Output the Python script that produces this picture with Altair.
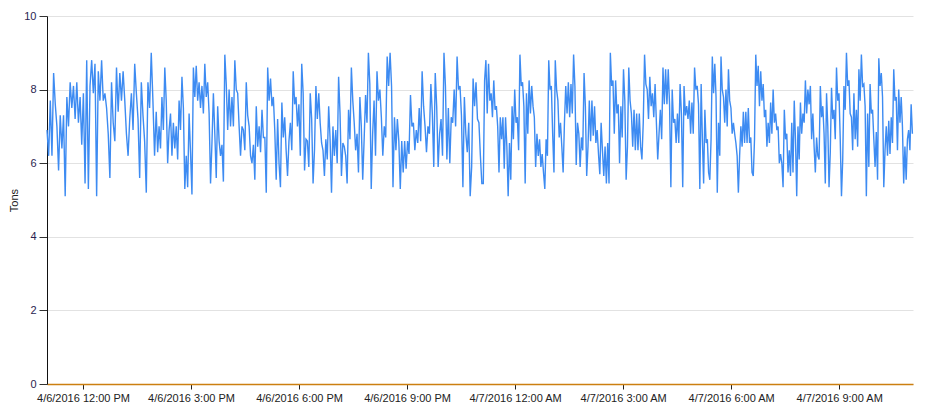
import altair as alt
import numpy as np
import pandas as pd

seg_starts = ["2016-04-06 11:00", "2016-04-06 14:02", "2016-04-06 17:03", "2016-04-06 20:05",
              "2016-04-06 23:07", "2016-04-07 02:08", "2016-04-07 05:10", "2016-04-07 08:12"]
seg_end = "2016-04-07 11:02"

# Tons, read stroke by stroke from the picture, in time order within each segment
seg1 = [6.9, 6.2, 7.7, 6.2, 8.45, 7.6, 7.0, 5.8, 7.3, 6.4, 7.3, 5.1, 7.8, 7.0, 8.2, 7.5, 8.1, 7.2, 8.2, 7.1,
        7.8, 6.5, 7.9, 5.45, 8.8, 5.3, 8.1, 8.8, 7.9, 8.7, 5.1, 8.5, 7.7, 8.8, 7.7, 7.9, 7.5, 6.8, 5.6, 8.2,
        7.1, 6.6, 8.6, 7.4, 8.45, 7.7, 8.5, 7.7, 6.8, 6.2, 7.2, 7.9, 6.9, 8.7, 7.9, 7.2, 5.6, 8.2, 7.3, 6.6,
        5.2, 8.2, 7.5, 9.0, 7.7, 6.2]
seg2 = [7.4, 6.3, 7.0, 6.4, 7.8, 6.9, 8.6, 7.7, 6.0, 6.9, 7.35, 6.2, 7.1, 6.4, 7.0, 6.1, 7.7, 6.9, 8.35, 7.5,
        5.3, 6.2, 5.35, 7.35, 6.3, 5.15, 8.6, 7.8, 8.65, 7.7, 8.2, 7.5, 8.1, 7.35, 8.7, 7.8, 8.2, 7.35, 5.45, 6.55,
        7.9, 6.8, 5.6, 7.55, 6.6, 6.2, 6.5, 5.5, 8.95, 8.15, 6.9, 8.0, 7.0, 7.8, 7.0, 8.8, 8.0, 7.9, 7.0, 6.2,
        7.0, 6.9, 6.35, 8.2, 7.3, 7.0, 6.2, 6.0, 6.5, 5.55, 7.55, 6.45, 7.0, 6.3, 7.45, 6.7]
seg3 = [6.7, 5.2, 8.6, 7.7, 8.3, 7.55, 7.8, 6.9, 5.55, 7.2, 6.0, 5.35, 7.65, 6.7, 7.25, 6.35, 5.65, 6.6, 7.1, 6.35,
        8.5, 7.6, 7.8, 7.0, 7.6, 6.2, 8.7, 7.9, 5.8, 6.65, 6.6, 5.9, 7.9, 7.2, 5.45, 6.35, 8.1, 7.2, 7.9, 7.1,
        6.55, 6.35, 5.65, 6.65, 6.1, 7.55, 6.65, 5.2, 7.0, 6.2, 6.9, 6.0, 8.35, 7.35, 5.65, 6.55, 6.45, 6.2, 5.45, 7.45,
        6.65, 8.6, 7.7, 7.1, 6.35, 6.8, 5.75, 7.8, 7.0, 5.55, 6.65, 7.85, 7.1, 9.0, 8.15, 5.3, 6.8]
seg4 = [7.7, 6.2, 8.5, 7.7, 8.0, 7.25, 6.2, 7.0, 6.7, 8.9, 8.1, 9.0, 8.1, 5.35, 7.25, 6.35, 7.2, 6.6, 5.3, 6.6,
        5.75, 6.6, 5.85, 6.6, 6.25, 7.85, 7.0, 7.1, 6.35, 6.9, 6.55, 7.5, 6.6, 8.5, 7.55, 7.0, 6.3, 7.0, 6.8, 8.15,
        7.35, 5.9, 8.45, 7.55, 5.9, 6.8, 7.2, 6.2, 9.0, 8.1, 6.1, 7.5, 6.0, 7.25, 7.1, 8.0, 7.0, 8.9, 8.0, 8.1,
        7.3, 5.35, 7.8, 6.8, 6.3, 7.1, 5.1, 5.9, 8.3, 7.55, 8.2, 7.2, 7.1, 6.2, 5.45]
seg5 = [5.45, 8.25, 8.8, 7.35, 8.7, 7.7, 7.9, 7.25, 8.25, 7.45, 7.55, 7.0, 5.75, 7.25, 6.65, 7.25, 5.85, 7.25, 6.45, 5.1,
        6.55, 5.55, 7.55, 6.65, 8.0, 7.1, 7.25, 6.35, 8.95, 8.1, 8.2, 7.55, 5.45, 7.9, 6.8, 8.25, 7.35, 8.1, 7.55, 7.25,
        5.9, 6.8, 6.2, 6.65, 5.9, 6.25, 5.75, 5.3, 6.65, 6.2, 8.8, 8.0, 8.1, 6.8, 5.75, 8.8, 8.0, 7.7, 6.7, 7.1,
        6.45, 5.75, 7.1, 8.1, 7.35, 8.2, 7.25, 8.15, 7.35, 8.95, 8.1, 5.95, 7.1, 6.8, 5.9, 6.7, 6.35, 8.45, 7.55, 5.65,
        6.45, 7.7, 6.6]
seg6 = [7.7, 6.75, 7.55, 6.55, 6.9, 6.25, 5.7, 7.1, 6.35, 5.65, 6.45, 5.45, 6.55, 5.45, 9.0, 8.1, 8.25, 6.8, 8.25, 7.35,
        7.6, 6.0, 7.55, 6.7, 8.55, 7.7, 5.55, 6.45, 8.6, 7.7, 7.35, 6.45, 7.45, 6.35, 7.35, 6.35, 7.35, 6.45, 6.1, 7.1,
        8.95, 8.15, 8.0, 7.2, 8.35, 7.55, 7.9, 7.25, 8.15, 7.1, 6.1, 6.8, 7.45, 6.65, 8.6, 7.6, 8.55, 7.6, 8.55, 7.6,
        5.35, 8.0, 7.1, 7.2, 6.55, 7.35, 6.55, 8.15, 7.35, 5.35, 8.1, 7.3, 7.55, 7.2, 7.7, 6.8, 7.65, 6.8, 8.6, 8.0,
        8.1, 7.6, 5.3]
seg7 = [8.15, 6.65, 5.45, 7.45, 6.55, 6.65, 5.75, 5.55, 6.65, 8.9, 7.9, 8.7, 7.8, 5.2, 7.1, 6.2, 8.9, 8.0, 7.8, 7.1,
        8.0, 7.0, 8.55, 7.7, 7.5, 6.8, 7.1, 6.8, 6.55, 6.2, 5.2, 6.2, 7.0, 6.45, 7.4, 6.55, 7.4, 6.55, 7.5, 6.55,
        6.7, 5.75, 5.65, 6.65, 8.95, 8.1, 8.65, 7.55, 8.5, 7.7, 8.15, 7.25, 7.45, 6.45, 7.1, 6.55, 7.65, 6.8, 8.0, 7.1,
        7.35, 6.9, 7.0, 6.0, 6.25, 6.0, 5.35, 7.45, 6.65, 6.8, 5.75, 6.35, 5.65, 7.1, 5.75, 7.7, 6.65, 5.1, 7.0, 6.1,
        7.65, 6.8, 7.35, 7.1, 8.25, 7.35, 8.0, 7.6]
seg8 = [8.1, 6.65, 7.35, 6.45, 5.75, 6.7, 6.2, 6.1, 8.1, 7.25, 7.55, 6.8, 5.45, 7.9, 7.0, 5.35, 6.3, 8.05, 7.2, 7.45,
        6.65, 8.6, 7.7, 7.9, 6.65, 5.1, 6.1, 8.1, 7.45, 9.0, 8.1, 8.25, 7.35, 7.25, 6.35, 7.9, 6.65, 7.45, 6.45, 8.55,
        7.7, 8.95, 8.1, 8.15, 7.55, 5.1, 7.35, 5.9, 8.15, 7.35, 7.45, 6.65, 5.9, 6.85, 5.55, 8.85, 8.1, 8.45, 7.8, 5.35,
        6.35, 7.0, 6.2, 7.15, 6.25, 7.25, 6.55, 8.55, 7.7, 7.8, 6.35, 8.0, 7.1, 7.8, 7.0, 5.45, 6.45, 5.55, 6.65, 6.9,
        6.35, 7.6, 6.8]

segments = [seg1, seg2, seg3, seg4, seg5, seg6, seg7, seg8]

tick_hours = ["2016-04-06T12:00:00", "2016-04-06T15:00:00", "2016-04-06T18:00:00", "2016-04-06T21:00:00",
              "2016-04-07T00:00:00", "2016-04-07T03:00:00", "2016-04-07T06:00:00", "2016-04-07T09:00:00"]

times, vals = [], []
bounds = [pd.Timestamp(s) for s in seg_starts] + [pd.Timestamp(seg_end)]
for k, seg in enumerate(segments):
    t0, t1 = bounds[k], bounds[k + 1]
    last = k == len(segments) - 1
    ts = pd.date_range(t0, t1, periods=len(seg) + (0 if last else 1))
    if not last:
        ts = ts[:-1]
    times.extend(ts)
    vals.extend(seg)

df = pd.DataFrame({"time": [t.strftime("%Y-%m-%dT%H:%M:%S") for t in times], "tons": vals})

tick_vals = [alt.DateTime(year=int(s[0:4]), month=int(s[5:7]), date=int(s[8:10]), hours=int(s[11:13]))
             for s in tick_hours]

chart = alt.Chart(df).mark_line(color="#3d8bf2", strokeWidth=1.4, interpolate="linear").encode(
    x=alt.X("time:T",
            scale=alt.Scale(domain=[alt.DateTime(year=2016, month=4, date=6, hours=11),
                                    alt.DateTime(year=2016, month=4, date=7, hours=11, minutes=3)],
                            nice=False),
            axis=alt.Axis(title=None, values=tick_vals, format="%-m/%-d/%Y %-I:%M %p",
                          grid=False, domainColor="#cc7f10", domainWidth=1.5,
                          tickColor="#222222", tickSize=5, labelFontSize=11,
                          labelFont="Liberation Sans", labelColor="#222222", labelPadding=3,
                          labelOverlap=False, labelFlush=False)),
    y=alt.Y("tons:Q",
            scale=alt.Scale(domain=[0, 10], nice=False),
            axis=alt.Axis(title="Tons", values=[0, 2, 4, 6, 8, 10], grid=True, gridColor="#e2e2e2",
                          domainColor="#111111", tickColor="#333333", tickSize=8,
                          labelFontSize=11, labelFont="Liberation Sans", labelColor="#2a1e50",
                          labelPadding=3, titleFont="Liberation Sans", titleFontSize=11,
                          titleFontWeight="normal", titleColor="#222222",
                          titleX=-39, titleY=184, titleAngle=-90, titleBaseline="top",
                          titleAlign="center")),
).properties(
    width=866, height=368,
    autosize=alt.AutoSizeParams(type="none"),
    padding={"left": 39, "top": 8, "right": 8, "bottom": 22},
).configure_view(stroke=None)

chart.save("out.html", embed_options={"renderer": "svg", "actions": False})
